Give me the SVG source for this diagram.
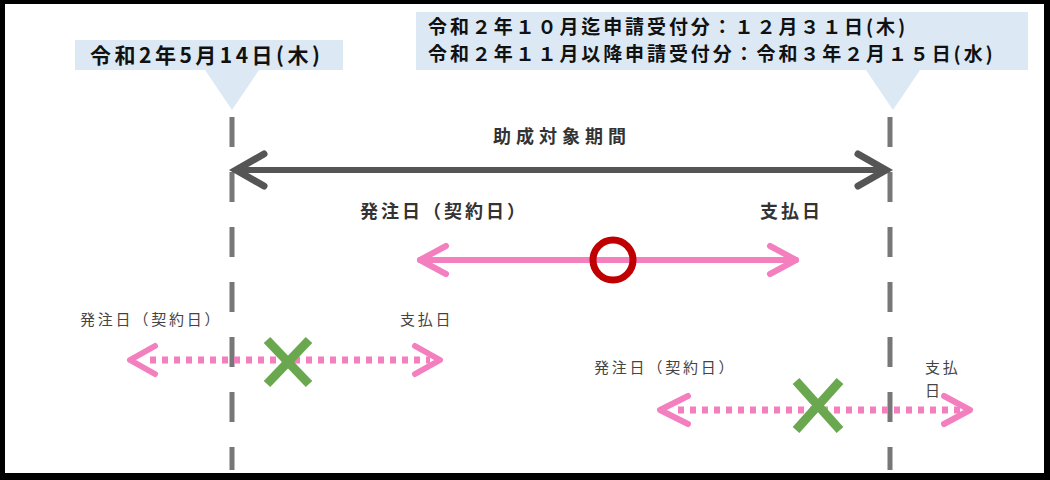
<svg xmlns="http://www.w3.org/2000/svg" width="1050" height="480" viewBox="0 0 1050 480">
<style>
.lbl{font-family:"Noto Sans CJK JP","Liberation Sans",sans-serif;font-weight:bold;font-size:19px;fill:#111;letter-spacing:2.9px}
.t1{font-family:"Noto Sans CJK JP",sans-serif;font-weight:bold;font-size:18px;fill:#333;letter-spacing:3px}
.t2{font-family:"Noto Sans CJK JP",sans-serif;font-size:15px;fill:#444;letter-spacing:2.8px}
.dash{stroke:#777;stroke-width:5;stroke-dasharray:30 25}
.box{fill:#dce9f5}
.pink{stroke:#f47fbf;stroke-width:6;fill:none;stroke-linecap:round;stroke-linejoin:round}
.dot{stroke:#f47fbf;stroke-width:7;stroke-dasharray:6 6;fill:none}
.x{stroke:#6aa84f;stroke-width:9;stroke-linecap:butt}
</style>
<rect x="0" y="0" width="1050" height="480" fill="#000"/>
<rect x="5" y="4" width="1039" height="469" fill="#fff"/>
<g id="label-start">
<rect class="box" x="75" y="40" width="268" height="30"/>
<polygon class="box" points="205,70 259,70 232,110"/>
<text class="lbl" x="90" y="63" style="font-size:21px;letter-spacing:3.5px">令和2年5月14日(木)</text>
</g>
<g id="label-end">
<rect class="box" x="416" y="12" width="612" height="58"/>
<polygon class="box" points="866,70 920,70 893,110"/>
<text class="lbl" x="428" y="34">令和２年１０月迄申請受付分：１２月３１日(木)</text>
<text class="lbl" x="428" y="61">令和２年１１月以降申請受付分：令和３年２月１５日(水)</text>
</g>
<g id="connectors">
<line class="dash" x1="232" y1="117" x2="232" y2="470"/>
<line class="dash" x1="890" y1="117" x2="890" y2="470"/>
<line x1="236" y1="170" x2="886" y2="170" stroke="#555" stroke-width="6"/>
<polyline points="264,154 236,170 264,186" stroke="#555" stroke-width="7" fill="none" stroke-linecap="round"/>
<polyline points="858,154 886,170 858,186" stroke="#555" stroke-width="7" fill="none" stroke-linecap="round"/>
<line class="pink" x1="420" y1="260" x2="796" y2="260"/>
<polyline class="pink" points="446,246 420,260 446,274"/>
<polyline class="pink" points="770,246 796,260 770,274"/>
<line class="dot" x1="150" y1="360" x2="430" y2="360"/>
<polyline class="pink" points="155,346 130,360 155,374"/>
<polyline class="pink" points="415,346 440,360 415,374"/>
<line class="dot" x1="678" y1="410" x2="960" y2="410"/>
<polyline class="pink" points="688,396 660,410 688,424"/>
<polyline class="pink" points="944,396 970,410 944,424"/>
</g>
<g id="title"><text class="t1" x="493" y="143" style="letter-spacing:5px">助成対象期間</text></g>
<g id="ok">
<text class="t1" x="360" y="218">発注日（契約日）</text>
<text class="t1" x="760" y="218">支払日</text>
<circle cx="613" cy="260" r="20" fill="none" stroke="#c00000" stroke-width="7"/>
</g>
<g id="ng1">
<text class="t2" x="80" y="325">発注日（契約日）</text>
<text class="t2" x="400" y="325">支払日</text>
<line class="x" x1="267" y1="340" x2="309" y2="384"/><line class="x" x1="309" y1="340" x2="267" y2="384"/>
</g>
<g id="ng2">
<text class="t2" x="594" y="373">発注日（契約日）</text>
<text class="t2" x="925" y="373">支払</text>
<text class="t2" x="925" y="396">日</text>
<line class="x" x1="796" y1="381" x2="840" y2="430"/><line class="x" x1="840" y1="381" x2="796" y2="430"/>
</g>
</svg>
